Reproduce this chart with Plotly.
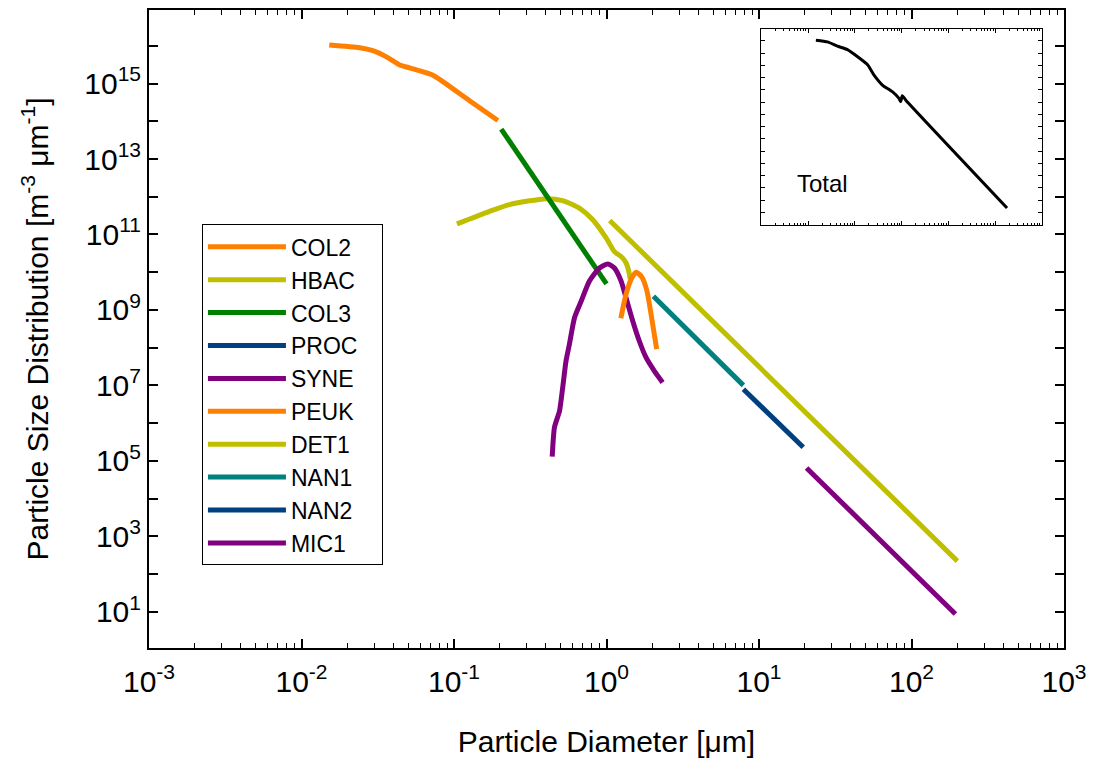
import plotly.graph_objects as go

# ---------------- data ----------------
col2_x = [0.0152, 0.0241, 0.0294, 0.0361, 0.0441, 0.0512, 0.0728, 0.0845, 0.1265, 0.194]
col2_y = [1.05e16, 8.9e15, 7.4e15, 5.1e15, 3.1e15, 2.6e15, 1.66e15, 1.12e15, 3.5e14, 1.05e14]

hbac_x = [0.1045, 0.171, 0.231, 0.402, 0.516, 0.664, 0.813, 0.994, 1.127, 1.247, 1.343, 1.413, 1.429]
hbac_y = [1.9e11, 4.1e11, 6.2e11, 8.9e11, 7.9e11, 5.0e11, 2.45e11, 8.1e10, 3.5e10, 2.6e10, 1.78e10, 8.9e9, 6.6e9]

col3_x = [0.204, 1.0]
col3_y = [6.2e13, 4.9e9]

proc_x = [None]
proc_y = [None]

syne_x = [0.4406, 0.456, 0.492, 0.516, 0.543, 0.571, 0.617, 0.682, 0.773, 0.899, 1.019,
          1.127, 1.247, 1.343, 1.486, 1.641, 1.816, 2.061, 2.333]
syne_y = [1.29e5, 7.8e5, 2.1e6, 8.7e6, 4.5e7, 1.23e8, 6.2e8, 1.7e9, 5.8e9, 1.29e10, 1.66e10,
          1.29e10, 5.8e9, 2.1e9, 5.1e8, 1.5e8, 5.5e7, 2.4e7, 1.2e7]

peuk_x = [1.242, 1.343, 1.466, 1.570, 1.706, 1.841, 1.982, 2.133]
peuk_y = [6.0e8, 2.6e9, 7.1e9, 1.0e10, 7.4e9, 3.2e9, 5.8e8, 9.1e7]

det1_x = [1.05, 200.0]
det1_y = [2.35e11, 2.2e2]

nan1_x = [2.03, 7.9]
nan1_y = [2.3e9, 1.0e7]

nan2_x = [7.9, 19.5]
nan2_y = [7.9e6, 2.3e5]

mic1_x = [20.5, 194.0]
mic1_y = [6.5e4, 8.7]

total_x = [0.01466, 0.02594, 0.04236, 0.06918, 0.1849, 0.2564, 0.3864, 0.631, 0.875,
           0.953, 1.030, 1.216, 178.6]
total_y = [1.15e16, 8.3e15, 3.7e15, 1.95e15, 1.17e14, 1.6e13, 2.5e12, 7.1e11, 2.0e11,
           1.1e11, 3.4e11, 1.5e11, 2.3e2]

x_tick_exps = [-3, -2, -1, 0, 1, 2, 3]
y_tick_exps = list(range(1, 17))

# ---------------- styling ----------------
ORANGE = "#FF8000"
OLIVE = "#BFBF00"
GREEN = "#008000"
NAVY = "#004080"
PURPLE = "#800080"
TEAL = "#008080"

series = [
    ("COL2", col2_x, col2_y, ORANGE),
    ("HBAC", hbac_x, hbac_y, OLIVE),
    ("COL3", col3_x, col3_y, GREEN),
    ("PROC", proc_x, proc_y, NAVY),
    ("SYNE", syne_x, syne_y, PURPLE),
    ("PEUK", peuk_x, peuk_y, ORANGE),
    ("DET1", det1_x, det1_y, OLIVE),
    ("NAN1", nan1_x, nan1_y, TEAL),
    ("NAN2", nan2_x, nan2_y, NAVY),
    ("MIC1", mic1_x, mic1_y, PURPLE),
]

FONT = "Liberation Sans, Arial, sans-serif"
PAD = "\u00a0" * 3  # right padding inside the legend box

fig = go.Figure()
for name, xs, ys, col in series:
    fig.add_trace(go.Scatter(x=xs, y=ys, mode="lines", name=name + PAD,
                             line=dict(color=col, width=5, shape="spline", smoothing=0.6),
                             xaxis="x", yaxis="y"))

fig.add_trace(go.Scatter(x=total_x, y=total_y, mode="lines", name="Total", showlegend=False,
                         line=dict(color="black", width=3, shape="spline", smoothing=0.5),
                         xaxis="x2", yaxis="y2"))

L, R, T, B = 149, 1065, 8, 648
W, H = 1095, 764

def px_x(p):
    return (p - L) / (R - L)

def px_y(p):
    return (B - p) / (B - T)

y_bot = 0.04
y_top = y_bot + (B - T) / 37.85

fig.update_layout(
    width=W, height=H,
    margin=dict(l=L, r=W - R, t=T, b=H - B, pad=0),
    paper_bgcolor="white", plot_bgcolor="white",
    font=dict(family=FONT, color="black", size=30),
    showlegend=True,
    legend=dict(x=px_x(202), y=px_y(223), xanchor="left", yanchor="top",
                bordercolor="black", borderwidth=1, bgcolor="white",
                font=dict(size=23, family=FONT), itemwidth=78,
                tracegroupgap=0),
    xaxis=dict(type="log", range=[-3, 3], domain=[0, 1],
               tickvals=[10 ** e for e in x_tick_exps],
               ticktext=[f"10<sup>{e}</sup>" for e in x_tick_exps],
               ticks="inside", ticklen=9, tickwidth=1.5, tickcolor="black",
               ticklabelstandoff=6,
               minor=dict(ticks="inside", ticklen=5, tickwidth=1, tickcolor="black", dtick="D1", showgrid=False),
               showline=True, linecolor="black", linewidth=2, mirror="allticks",
               showgrid=False, zeroline=False,
               tickfont=dict(size=30),
               title=dict(text="Particle Diameter [μm]", font=dict(size=30), standoff=34)),
    yaxis=dict(type="log", range=[y_bot, y_top], domain=[0, 1],
               tickvals=[10 ** e for e in y_tick_exps],
               ticktext=[f"10<sup>{e}</sup>" if e % 2 == 1 else "" for e in y_tick_exps],
               ticks="inside", ticklen=9, tickwidth=1.5, tickcolor="black",
               showline=True, linecolor="black", linewidth=2, mirror="allticks",
               showgrid=False, zeroline=False,
               tickfont=dict(size=30),
               title=dict(text="Particle Size Distribution [m<sup>-3</sup> μm<sup>-1</sup>]",
                          font=dict(size=30), standoff=27)),
    xaxis2=dict(type="log", range=[-3, 3], domain=[px_x(762), px_x(1043)], anchor="y2",
                dtick=1, showticklabels=False,
                ticks="inside", ticklen=4, tickwidth=1, tickcolor="black",
                minor=dict(ticks="inside", ticklen=2, tickwidth=1, tickcolor="black", dtick="D1", showgrid=False),
                showline=True, linecolor="black", linewidth=1.2, mirror="allticks",
                showgrid=False, zeroline=False),
    yaxis2=dict(type="log", range=[1, 17], domain=[px_y(223.3), px_y(26.7)], anchor="x2",
                dtick=1, showticklabels=False,
                ticks="inside", ticklen=4, tickwidth=1, tickcolor="black",
                showline=True, linecolor="black", linewidth=1.2, mirror="allticks",
                showgrid=False, zeroline=False),
    annotations=[dict(text="Total", xref="paper", yref="paper",
                      x=px_x(796), y=px_y(182), xanchor="left", yanchor="middle",
                      showarrow=False, font=dict(size=24, family=FONT))],
)

fig.write_html("out.html")
